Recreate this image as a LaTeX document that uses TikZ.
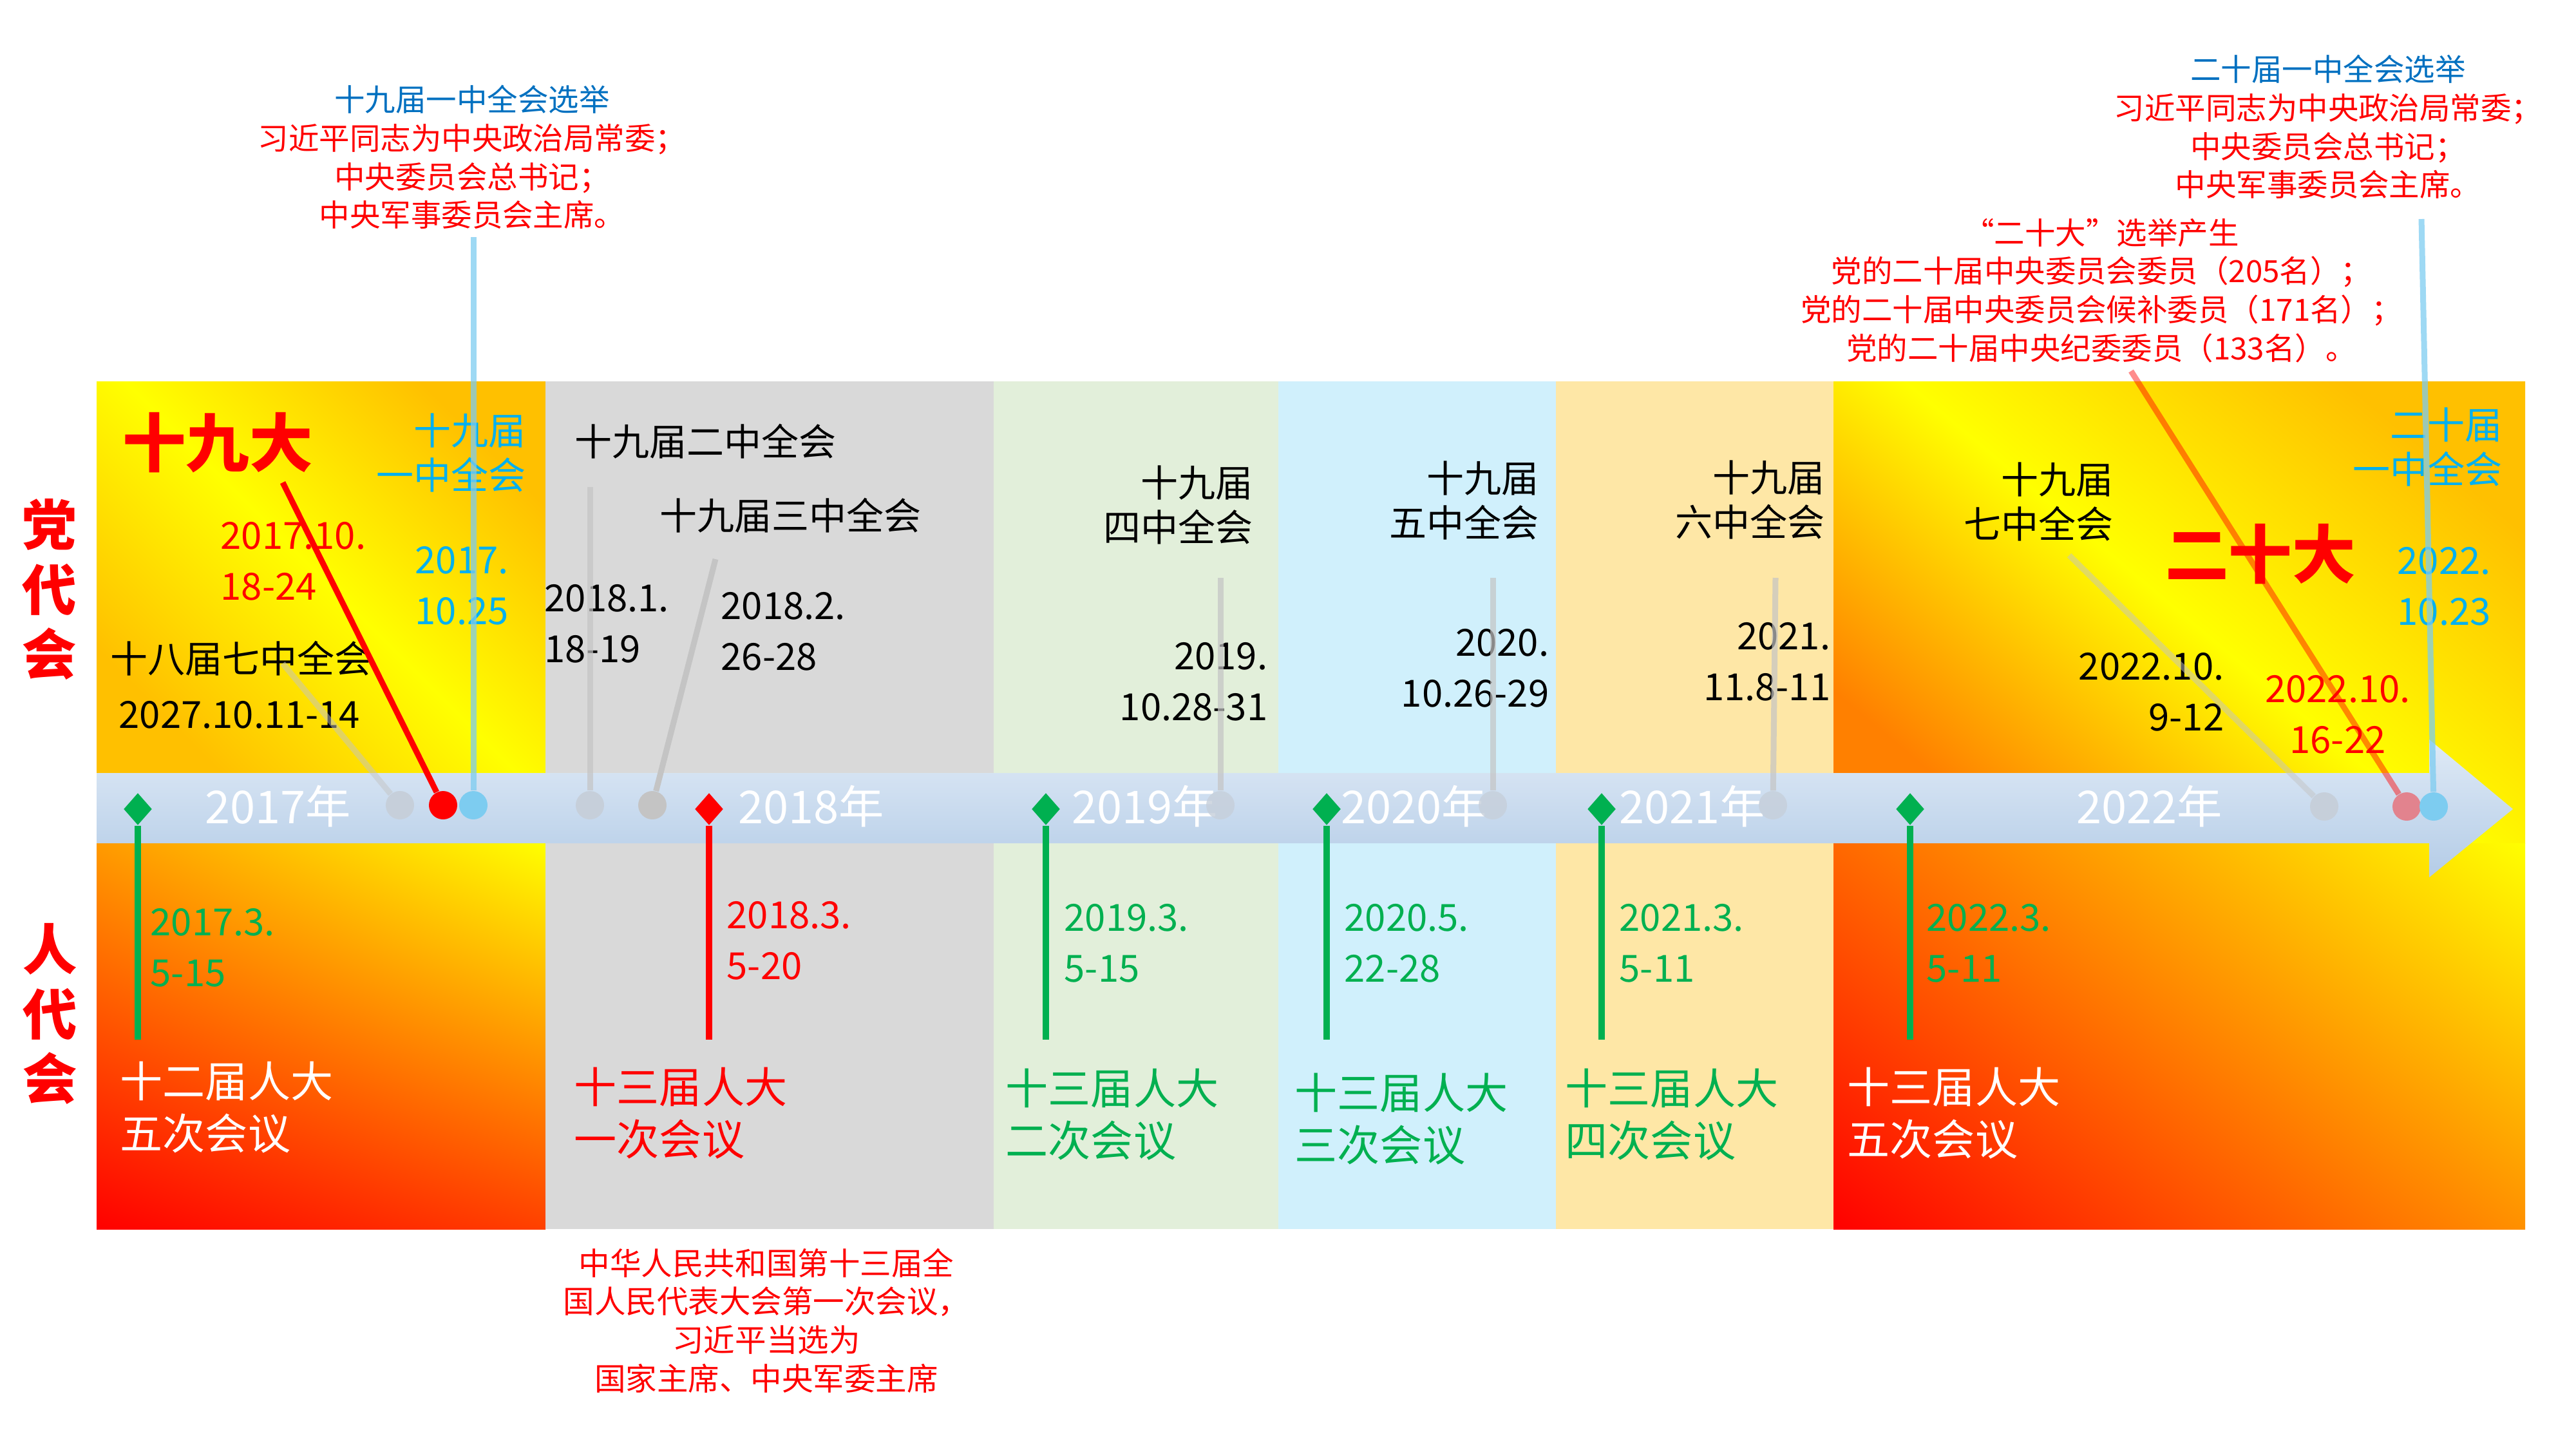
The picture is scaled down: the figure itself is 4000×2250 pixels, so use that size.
\documentclass[tikz,border=0pt]{standalone}
\usepackage{fontspec}
\setmainfont{Noto Sans CJK SC}
\usetikzlibrary{shapes.geometric,shadings}
\definecolor{tlhi}{HTML}{DFEAF6}
\definecolor{tllo}{HTML}{B4CCE7}
\definecolor{bggray}{HTML}{D9D9D9}
\definecolor{bggreen}{HTML}{E2EFDA}
\definecolor{bgcyan}{HTML}{D0F0FC}
\definecolor{bgsand}{HTML}{FEE7A6}
\definecolor{orga}{HTML}{FFC000}
\definecolor{orgb}{HTML}{FF8000}
\definecolor{orgc}{HTML}{FF9A00}
\definecolor{orgd}{HTML}{FF4000}
\definecolor{orge}{HTML}{FF6800}
\definecolor{orgf}{HTML}{FF9000}
\definecolor{npcgreen}{HTML}{00B050}
\definecolor{cpcblue}{HTML}{00B0F0}
\definecolor{noteblue}{HTML}{0070C0}
\definecolor{dotgray}{HTML}{C6CFDA}
\definecolor{linegray}{HTML}{C4C4C4}
\definecolor{sky}{HTML}{7DCCF0}
\definecolor{pinkdot}{HTML}{E2838E}

\begin{document}
\begin{tikzpicture}[x=0.01cm,y=-0.01cm,
    lbl/.style={inner sep=0pt,font=\fontsize{16.5}{19.5}\selectfont},
    dt/.style={inner sep=0pt,font=\fontsize{16.5}{22.5}\selectfont},
    npc/.style={inner sep=0pt,align=left,anchor=west,font=\fontsize{18.8}{23}\selectfont},
    note/.style={inner sep=0pt,align=center,text=red,font=\fontsize{13.5}{17}\selectfont},
    yr/.style={inner sep=0pt,text=white,font=\fontsize{20}{20}\selectfont},
    big/.style={inner sep=0pt,text=red,font=\fontsize{28}{28}\selectfont\bfseries},
    side/.style={inner sep=0pt,align=center,text=red,font=\fontsize{24}{28.5}\selectfont\bfseries},
    dia/.style={diamond,inner sep=0pt,minimum width=0.44cm,minimum height=0.5cm},
    dot/.style={circle,inner sep=0pt,minimum size=0.44cm},
    lk/.style={line width=0.09cm},
    glk/.style={lk,draw=linegray,opacity=.7},
    vl/.style={line width=0.1cm}]
    \useasboundingbox (0,0) rectangle (4000,2250);
    \shade[top color=orga,bottom color=orga,middle color=yellow,shading angle=-45] (150,592) rectangle (847,1200);
    \shade[upper left=orgc,upper right=yellow,lower left=red,lower right=orgd] (150,1309) rectangle (847,1908);
    \foreach \xa/\xb/\c in {847/1543/bggray,1543/1985/bggreen,1985/2416/bgcyan,2416/2847/bgsand}
    {
        \fill[\c] (\xa,592) rectangle (\xb,1200);
        \fill[\c] (\xa,1309) rectangle (\xb,1908);
    }
    \shade[top color=orga,bottom color=orgb,middle color=yellow,shading angle=-40] (2847,592) rectangle (3921,1309);
    \shade[upper left=orge,upper right=yellow,lower left=red,lower right=orgf] (2847,1309) rectangle (3921,1908);
    \shade[top color=tlhi,bottom color=tllo] (150,1200) -- (3772,1200) -- (3772,1148) -- (3902,1256)
        -- (3772,1362) -- (3772,1309) -- (150,1309) -- cycle;
    \foreach \x/\y in {432/2017,1260/2018,1778/2019,2196/2020,2628/2021,3338/2022}
        \node[yr] (y\y) at (\x,1252) {\y{}年};

    \node[side] (dhz) at (77,915) {党\\代\\会};
    \node[side] (rdh) at (78,1574) {人\\代\\会};

    \node[note] (n19) at (733,244) {\textcolor{noteblue}{十九届一中全会选举}\\习近平同志为中央政治局常委；\\中央委员会总书记；\\中央军事委员会主席。};
    \node[note] (n20) at (3615,197) {\textcolor{noteblue}{二十届一中全会选举}\\习近平同志为中央政治局常委；\\中央委员会总书记；\\中央军事委员会主席。};
    \node[note] (nd20) at (3263,451) {“二十大”选举产生\\党的二十届中央委员会委员（205名）；\\党的二十届中央委员会候补委员（171名）；\\党的二十届中央纪委委员（133名）。};
    \node[note,font=\fontsize{13.8}{17}\selectfont] (nrd) at (1190,2050) {中华人民共和国第十三届全\\国人民代表大会第一次会议，\\习近平当选为\\国家主席、中央军委主席};

    \node[big] (d19) at (338,687) {十九大};
    \node[big] (d20) at (3510,860) {二十大};
    \node[lbl,align=right,anchor=east,text=cpcblue] (q1) at (817,703) {十九届\\一中全会};
    \node[dt,align=left,anchor=west,text=red] (t19) at (342,871) {2017.10.\\18-24};
    \node[dt,align=left,anchor=west,text=cpcblue] (t1) at (644,909) {2017.\\10.25};
    \node[lbl,anchor=west] (q187) at (171,1022) {十八届七中全会};
    \node[dt,anchor=west] (t187) at (184,1110) {2027.10.11-14};
    \node[lbl,anchor=west] (q2) at (892,685) {十九届二中全会};
    \node[lbl,anchor=west] (q3) at (1024,800) {十九届三中全会};
    \node[dt,align=left,anchor=west] (t2) at (845,968) {2018.1.\\18-19};
    \node[dt,align=left,anchor=west] (t3) at (1119,980) {2018.2.\\26-28};
    \node[lbl,align=right,anchor=east] (q4) at (1946,784) {十九届\\四中全会};
    \node[dt,align=right,anchor=east] (t4) at (1969,1058) {2019.\\10.28-31};
    \node[lbl,align=right,anchor=east] (q5) at (2390,777) {十九届\\五中全会};
    \node[dt,align=right,anchor=east] (t5) at (2406,1037) {2020.\\10.26-29};
    \node[lbl,align=right,anchor=east] (q6) at (2834,776) {十九届\\六中全会};
    \node[dt,align=right,anchor=east] (t6) at (2843,1027) {2021.\\11.8-11};
    \node[lbl,align=right,anchor=east] (q7) at (3282,779) {十九届\\七中全会};
    \node[dt,align=right,anchor=east] (t7) at (3454,1074) {2022.10.\\9-12};
    \node[dt,align=center,text=red] (t20) at (3630,1109) {2022.10.\\16-22};
    \node[lbl,align=right,anchor=east,text=cpcblue] (r1) at (3886,694) {二十届\\一中全会};
    \node[dt,align=left,anchor=west,text=cpcblue] (s1) at (3722,910) {2022.\\10.23};

    \node[dt,align=left,anchor=west,text=npcgreen] (u12) at (233,1471) {2017.3.\\5-15};
    \node[dt,align=left,anchor=west,text=red] (u131) at (1128,1460) {2018.3.\\5-20};
    \node[dt,align=left,anchor=west,text=npcgreen] (u132) at (1652,1464) {2019.3.\\5-15};
    \node[dt,align=left,anchor=west,text=npcgreen] (u133) at (2087,1464) {2020.5.\\22-28};
    \node[dt,align=left,anchor=west,text=npcgreen] (u134) at (2514,1464) {2021.3.\\5-11};
    \node[dt,align=left,anchor=west,text=npcgreen] (u135) at (2991,1464) {2022.3.\\5-11};
    \node[npc,text=white] (v12) at (186,1719) {十二届人大\\五次会议};
    \node[npc,text=red] (v131) at (891,1728) {十三届人大\\一次会议};
    \node[npc,text=npcgreen] (v132) at (1561,1730) {十三届人大\\二次会议};
    \node[npc,text=npcgreen] (v133) at (2010,1737) {十三届人大\\三次会议};
    \node[npc,text=npcgreen] (v134) at (2430,1730) {十三届人大\\四次会议};
    \node[npc,text=white] (v135) at (2868,1728) {十三届人大\\五次会议};

    \node[dot,fill=dotgray] (p187) at (621,1250) {};
    \node[dot,fill=red] (p19) at (688,1250) {};
    \node[dot,fill=sky] (p1) at (735,1250) {};
    \node[dot,fill=dotgray] (p2) at (916,1250) {};
    \node[dot,fill=linegray] (p3) at (1013,1250) {};
    \node[dot,fill=dotgray,opacity=.8] (p4) at (1895,1250) {};
    \node[dot,fill=dotgray,opacity=.8] (p5) at (2318,1250) {};
    \node[dot,fill=dotgray,opacity=.8] (p6) at (2753,1250) {};
    \node[dot,fill=dotgray] (p7) at (3609,1252) {};
    \node[dot,fill=pinkdot] (p20) at (3737,1252) {};
    \node[dot,fill=sky] (s20) at (3779,1252) {};

    \coordinate (k187) at (439,1030);
    \coordinate (k19) at (439,749);
    \coordinate (k1) at (735,368);
    \coordinate (k2) at (916,756);
    \coordinate (k3) at (1111,868);
    \coordinate (k4) at (1895,897);
    \coordinate (k5) at (2318,897);
    \coordinate (k6) at (2757,897);
    \coordinate (k7) at (3213,862);
    \coordinate (k20) at (3309,576);
    \coordinate (kz20) at (3760,340);
    \draw[glk,opacity=.5] (k187) -- (p187);
    \draw[lk,red] (k19) -- (p19);
    \draw[lk,sky,opacity=.75] (k1) -- (p1);
    \draw[glk] (k2) -- (p2);
    \draw[lk,linegray] (k3) -- (p3);
    \draw[glk] (k4) -- (p4);
    \draw[glk] (k5) -- (p5);
    \draw[glk] (k6) -- (p6);
    \draw[glk,opacity=.5] (k7) -- (p7);
    \draw[lk,red,opacity=.45] (k20) -- (p20);
    \draw[lk,sky,opacity=.75] (kz20) -- (s20);

    \foreach \n/\x/\c in {a/214/npcgreen,b/1101/red,c/1624/npcgreen,d/2060/npcgreen,e/2487/npcgreen,f/2966/npcgreen}
    {
        \node[dia,fill=\c] (m\n) at (\x,1256) {};
        \coordinate (e\n) at (\x,1614);
        \draw[vl,\c] (m\n) -- (e\n);
    }
\end{tikzpicture}
\end{document}
